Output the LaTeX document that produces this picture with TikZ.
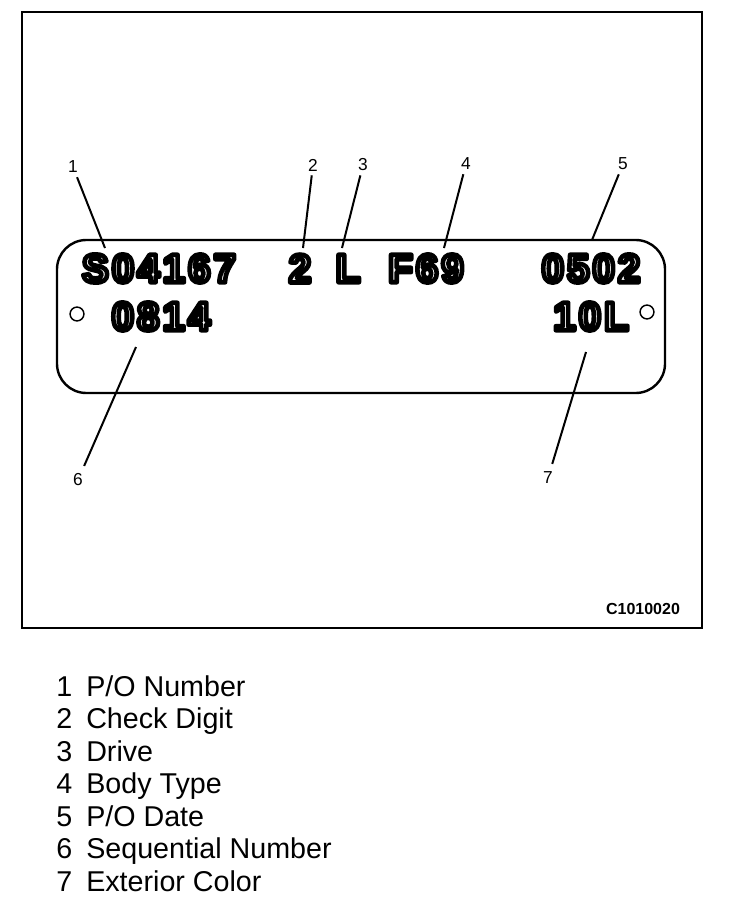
\documentclass[tikz,border=0pt]{standalone}
\usepackage{fontspec}
\setmainfont{Liberation Sans}
\newfontfamily\platefont[LetterSpace=8, FakeBold=11.5]{Liberation Sans Bold}
% white face, black stroke with round joins
\newcommand{\emboss}[1]{\special{pdf:literal direct 1 j}\special{pdf:bcolor [1] [0]}#1\special{pdf:ecolor}}

\begin{document}
\begin{tikzpicture}[x=0.75pt, y=-0.75pt,
	callout/.style={font=\fontsize{13}{15}\selectfont, inner sep=3pt},
	stamp/.style={font=\platefont\fontsize{30}{33}\selectfont, inner sep=0pt},
	leader/.style={line width=1.5pt},
	entry/.style={font=\fontsize{21.5}{24}\selectfont, anchor=base west, inner sep=0pt}]
	\fill[white] (0,0) rectangle (752,910);
	\useasboundingbox (0,0) rectangle (752,910);
	\draw[line width=1.6pt] (22,12) rectangle (702,628);
	% the plate
	\draw[line width=1.8pt, rounded corners=22pt] (57,240) rectangle (665,393);
	\draw[line width=1.1pt] (77,314) circle[radius=5.2pt];
	\draw[line width=1.1pt] (647,312) circle[radius=5.2pt];
	\node[stamp] (po) at (159,268.5) {\emboss{S04167}};
	\node[stamp] (check) at (300,268.5) {\emboss{2}};
	\node[stamp] (drive) at (348,268.5) {\emboss{L}};
	\node[stamp] (body) at (426,268.5) {\emboss{F69}};
	\node[stamp] (date) at (591,268.5) {\emboss{0502}};
	\node[stamp] (seq) at (161,316.5) {\emboss{0814}};
	\node[stamp] (color) at (591,316.5) {\emboss{10L}};
	% callouts
	\coordinate (t1) at (105,248);
	\coordinate (t2) at (303,248);
	\coordinate (t3) at (342,248);
	\coordinate (t4) at (444,248);
	\coordinate (t5) at (592,240);
	\coordinate (t6) at (136,347);
	\coordinate (t7) at (586,352);
	\node[callout] (n1) at (73,167) {1};
	\node[callout] (n2) at (313,165) {2};
	\node[callout] (n3) at (363,165) {3};
	\node[callout] (n4) at (466,164) {4};
	\node[callout] (n5) at (623,164) {5};
	\node[callout] (n6) at (78,480) {6};
	\node[callout] (n7) at (548,478) {7};
	\draw[leader] (n1) -- (t1);
	\draw[leader] (n2) -- (t2);
	\draw[leader] (n3) -- (t3);
	\draw[leader] (n4) -- (t4);
	\draw[leader] (n5) -- (t5);
	\draw[leader, shorten <=3pt] (n6) -- (t6);
	\draw[leader, shorten <=3pt] (n7) -- (t7);
	\node[font=\bfseries\fontsize{12}{14}\selectfont] (code) at (643,609) {C1010020};
	% legend
	\foreach \i/\txt in {1/P\slash O Number, 2/Check Digit, 3/Drive, 4/Body Type,
		5/P\slash O Date, 6/Sequential Number, 7/Exterior Color} {
		\node[entry] (k\i) at (56,{696+32.5*(\i-1)}) {\i};
		\node[entry] (e\i) at (86,{696+32.5*(\i-1)}) {\txt};
	}
\end{tikzpicture}
\end{document}
